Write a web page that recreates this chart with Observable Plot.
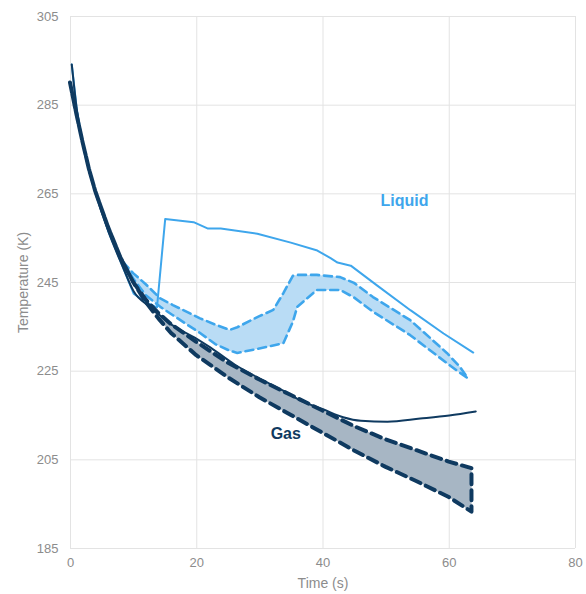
<!DOCTYPE html>
<html>
<head>
<meta charset="utf-8">
<script src="https://cdn.jsdelivr.net/npm/d3@7"></script>
<script src="https://cdn.jsdelivr.net/npm/@observablehq/plot@0.6"></script>
<style>
  html, body { margin: 0; padding: 0; background: #ffffff; }
  #chart { width: 586px; height: 594px; }
  g[aria-label="x-axis label"], g[aria-label="y-axis label"] { font-size: 14px; }
</style>
</head>
<body>
<div id="chart"></div>
<script>
// ---- Data ----
const xTicks = [0, 20, 40, 60, 80];
const yTicks = [185, 205, 225, 245, 265, 285, 305];

// Gas prediction band (dashed, dark)
const gasBandTime = [0, 1, 2, 3, 4, 6, 8, 10, 12, 14, 16, 20, 25, 30, 35, 40, 45, 50, 55, 60, 63.6];
const gasBandHigh = [290, 283, 276.5, 270.5, 265.5, 257.5, 250.5, 245, 241, 238, 235.5, 231.5, 226.8, 223, 219.5, 216, 212.5, 209.5, 207, 204.5, 203];
const gasBandLow  = [290, 283, 276.5, 270.5, 265.5, 257.5, 250.5, 245, 240.5, 236.8, 233.5, 228.5, 223.5, 219, 215, 211, 207, 203.3, 200, 196.5, 193.2];

// Liquid prediction band (dashed, light blue)
const liqBandTime = [8.4, 10, 12, 14.3, 16.3, 20.6, 23, 25.3, 26.5, 30, 32.2, 33.8, 35.3, 36, 39.1, 42.8, 45, 48, 53.9, 59.7, 61.8, 63];
const liqBandHigh = [249.5, 247, 244.5, 241.3, 239.8, 236.8, 235.4, 234.2, 234.8, 237.3, 238.7, 242.5, 246.4, 246.6, 246.6, 246.1, 244.8, 241.6, 236.4, 229, 225.8, 223.3];
const liqBandLow  = [249.5, 245.8, 242, 239.4, 237.5, 233.5, 231, 229.5, 229, 230, 230.7, 231.2, 236, 239.4, 243.2, 243.2, 241.5, 238.3, 233, 226.7, 224.5, 223.3];

// Measured gas temperature (solid, dark)
const gasMeasTime = [0.2, 1, 2, 3, 4, 6, 8.2, 10, 12.7, 16, 20, 22.2, 26, 30, 33.7, 37, 40, 43.2, 46, 50.2, 55.4, 60, 64.2];
const gasMeasTemp = [294.2, 284, 276, 270, 265, 256.5, 248.8, 243, 239.4, 235.5, 232.3, 230.3, 226.5, 223.3, 220.6, 218, 216.4, 214.6, 213.8, 213.6, 214.3, 215, 215.9];

// Measured liquid temperature (solid, light blue)
const liqMeasTime = [0.2, 1, 2, 3, 4, 6, 8.2, 10, 12, 13.7, 15, 19.5, 21.7, 23.8, 29.6, 34.9, 39.1, 41.2, 42.3, 44.4, 48.6, 53.9, 59.1, 63.8];
const liqMeasTemp = [294.2, 284, 276, 270, 265, 256.5, 248.8, 242.5, 240.5, 239.4, 259.3, 258.6, 257.2, 257.2, 256, 254, 252.2, 250.5, 249.5, 248.8, 244.3, 238.7, 233.5, 229.2];

// Labels
const seriesLabels = ["Liquid", "Gas"];
const labelTime = [52.9, 34.1];
const labelTemp = [263.3, 210.9];

// ---- Tables built from the arrays ----
const gasBand = gasBandTime.map((t, i) => ({t, lo: gasBandLow[i], hi: gasBandHigh[i]}));
const liqBand = liqBandTime.map((t, i) => ({t, lo: liqBandLow[i], hi: liqBandHigh[i]}));
const gasMeas = gasMeasTime.map((t, i) => ({t, v: gasMeasTemp[i]}));
const liqMeas = liqMeasTime.map((t, i) => ({t, v: liqMeasTemp[i]}));
const labels = seriesLabels.map((s, i) => ({s, t: labelTime[i], v: labelTemp[i]}));

const dark = "#0f3a60";
const light = "#3ea6ec";

const chart = Plot.plot({
  width: 586,
  height: 594,
  marginLeft: 70,
  marginRight: 11,
  marginTop: 16,
  marginBottom: 46,
  style: {fontFamily: "'Liberation Sans', Arial, sans-serif", fontSize: "13px", color: "#8c8c8c", background: "#ffffff"},
  x: {domain: [0, 80]},
  y: {domain: [185, 305]},
  marks: [
    Plot.gridX(xTicks, {stroke: "#e3e3e3", strokeOpacity: 1}),
    Plot.gridY(yTicks, {stroke: "#e3e3e3", strokeOpacity: 1}),
    Plot.axisX({ticks: xTicks, tickSize: 0, tickPadding: 9, fill: "#8c8c8c",
      label: "Time (s)", labelAnchor: "center", labelArrow: "none", labelOffset: 39, fontSize: 13}),
    Plot.axisY({ticks: yTicks, tickSize: 0, tickPadding: 12, fill: "#8c8c8c",
      label: "Temperature (K)", labelAnchor: "center", labelArrow: "none", labelOffset: 52, fontSize: 13}),
    // Liquid band
    Plot.areaY(liqBand, {x: "t", y1: "lo", y2: "hi", fill: "#b9dcf5", fillOpacity: 1,
      stroke: light, strokeWidth: 2.6, strokeDasharray: "8,5", strokeLinejoin: "round"}),
    // Measured liquid
    Plot.line(liqMeas, {x: "t", y: "v", stroke: light, strokeWidth: 2}),
    // Gas band
    Plot.areaY(gasBand, {x: "t", y1: "lo", y2: "hi", fill: "#a7b6c4", fillOpacity: 1,
      stroke: dark, strokeWidth: 4, strokeDasharray: "10,6", strokeLinejoin: "round"}),
    // Measured gas
    Plot.line(gasMeas, {x: "t", y: "v", stroke: dark, strokeWidth: 2, curve: "monotone-x"}),
    // Series labels
    Plot.text(labels, {x: "t", y: "v", text: "s", fontWeight: "bold", fontSize: 16,
      fill: (d) => d.s === "Liquid" ? light : dark})
  ]
});
document.getElementById("chart").appendChild(chart);
</script>
</body>
</html>
